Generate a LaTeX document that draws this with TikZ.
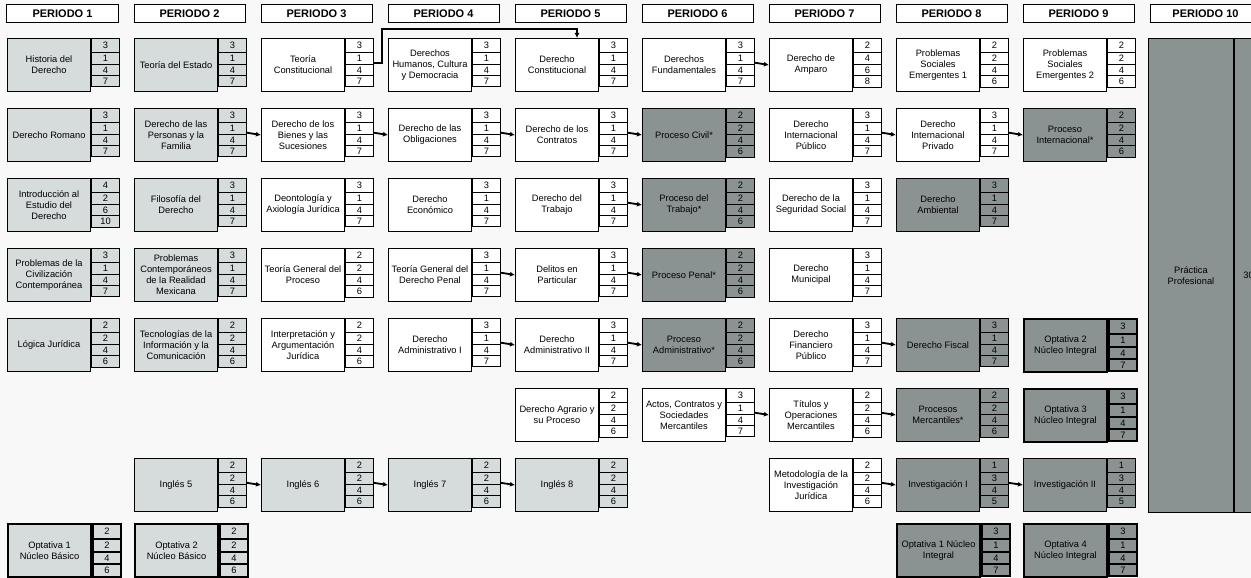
\documentclass[tikz,border=0pt]{standalone}
\usepackage{fontspec}
\setmainfont{Liberation Sans}
\usetikzlibrary{shapes.multipart,arrows.meta}

\definecolor{claro}{RGB}{214,219,219}
\definecolor{oscuro}{RGB}{139,147,146}
\definecolor{fondo}{RGB}{248,248,248}

% materia: nombre, esquina (x,y), estilo, texto, cuatro cifras
\newcommand{\materia}[8]{%
  \node (#1) at (#2) [caja,#3,anchor=north west] {#4};
  \node (#1n) at (#1.north east) [creditos,#3,anchor=north west] {#5\nodepart{two}#6\nodepart{three}#7\nodepart{four}#8};
}

\begin{document}
\begin{tikzpicture}[x=1bp,y=-1bp,
    caja/.style={draw,rectangle,line width=1bp,minimum width=83bp,minimum height=53bp,inner sep=0.5bp,align=center,font=\fontsize{9.3bp}{11bp}\selectfont},
    creditos/.style={draw,rectangle split,rectangle split parts=4,line width=1bp,minimum width=28bp,inner xsep=0bp,inner ysep=2bp,text height=7.25bp,text depth=2bp,font=\fontsize{9.3bp}{11bp}\selectfont},
    blanca/.style={fill=white},
    gris/.style={fill=claro},
    obscura/.style={fill=oscuro},
    gruesa/.style={line width=2bp},
    periodo/.style={draw,rectangle,line width=1bp,fill=white,minimum width=111bp,minimum height=18bp,inner sep=0bp,font=\fontsize{11bp}{11bp}\selectfont\bfseries},
    flecha/.style={-{Latex[length=5bp,width=5bp]},line width=1.8bp}]
  \fill[fondo] (0,0) rectangle (1251,578);
  \useasboundingbox (0,0) rectangle (1251,578);
		%%
  \node (P1) at (62.5,14) [periodo] {PERIODO 1};
  \node (P2) at (189.5,14) [periodo] {PERIODO 2};
  \node (P3) at (316.5,14) [periodo] {PERIODO 3};
  \node (P4) at (443.5,14) [periodo] {PERIODO 4};
  \node (P5) at (570.5,14) [periodo] {PERIODO 5};
  \node (P6) at (697.5,14) [periodo] {PERIODO 6};
  \node (P7) at (824.5,14) [periodo] {PERIODO 7};
  \node (P8) at (951.5,14) [periodo] {PERIODO 8};
  \node (P9) at (1078.5,14) [periodo] {PERIODO 9};
  \node (P10) at (1205.5,14) [periodo] {PERIODO 10};
		% periodo 1
  \materia{Historia}{7,38}{gris}{Historia del\\Derecho}{3}{1}{4}{7}
  \materia{Romano}{7,108}{gris}{Derecho Romano}{3}{1}{4}{7}
  \materia{Introduccion}{7,178}{gris}{Introducción al\\Estudio del\\Derecho}{4}{2}{6}{10}
  \materia{Civilizacion}{7,248}{gris}{Problemas de la\\Civilización\\Contemporánea}{3}{1}{4}{7}
  \materia{Logica}{7,318}{gris}{Lógica Jurídica}{2}{2}{4}{6}
  \materia{OptBasUno}{7,523}{gris,gruesa}{Optativa 1\\Núcleo Básico}{2}{2}{4}{6}
		% periodo 2
  \materia{Estado}{134,38}{gris}{Teoría del Estado}{3}{1}{4}{7}
  \materia{Personas}{134,108}{gris}{Derecho de las\\Personas y la\\Familia}{3}{1}{4}{7}
  \materia{Filosofia}{134,178}{gris}{Filosofía del\\Derecho}{3}{1}{4}{7}
  \materia{Mexicana}{134,248}{gris}{Problemas\\Contemporáneos\\de la Realidad\\Mexicana}{3}{1}{4}{7}
  \materia{Tecnologias}{134,318}{gris}{Tecnologías de la\\Información y la\\Comunicación}{2}{2}{4}{6}
  \materia{InglesCinco}{134,458}{gris}{Inglés 5}{2}{2}{4}{6}
  \materia{OptBasDos}{134,523}{gris,gruesa}{Optativa 2\\Núcleo Básico}{2}{2}{4}{6}
		% periodo 3
  \materia{TeoriaConst}{261,38}{blanca}{Teoría\\Constitucional}{3}{1}{4}{7}
  \materia{Bienes}{261,108}{blanca}{Derecho de los\\Bienes y las\\Sucesiones}{3}{1}{4}{7}
  \materia{Deontologia}{261,178}{blanca}{Deontología y\\Axiología Jurídica}{3}{1}{4}{7}
  \materia{TeoriaProceso}{261,248}{blanca}{Teoría General del\\Proceso}{2}{2}{4}{6}
  \materia{Argumentacion}{261,318}{blanca}{Interpretación y\\Argumentación\\Jurídica}{2}{2}{4}{6}
  \materia{InglesSeis}{261,458}{gris}{Inglés 6}{2}{2}{4}{6}
		% periodo 4
  \materia{Humanos}{388,38}{blanca}{Derechos\\Humanos, Cultura\\y Democracia}{3}{1}{4}{7}
  \materia{Obligaciones}{388,108}{blanca}{Derecho de las\\Obligaciones}{3}{1}{4}{7}
  \materia{Economico}{388,178}{blanca}{Derecho\\Económico}{3}{1}{4}{7}
  \materia{TeoriaPenal}{388,248}{blanca}{Teoría General del\\Derecho Penal}{3}{1}{4}{7}
  \materia{AdminUno}{388,318}{blanca}{Derecho\\Administrativo I}{3}{1}{4}{7}
  \materia{InglesSiete}{388,458}{gris}{Inglés 7}{2}{2}{4}{6}
		% periodo 5
  \materia{Constitucional}{515,38}{blanca}{Derecho\\Constitucional}{3}{1}{4}{7}
  \materia{Contratos}{515,108}{blanca}{Derecho de los\\Contratos}{3}{1}{4}{7}
  \materia{Trabajo}{515,178}{blanca}{Derecho del\\Trabajo}{3}{1}{4}{7}
  \materia{Delitos}{515,248}{blanca}{Delitos en\\Particular}{3}{1}{4}{7}
  \materia{AdminDos}{515,318}{blanca}{Derecho\\Administrativo II}{3}{1}{4}{7}
  \materia{Agrario}{515,388}{blanca}{Derecho Agrario y\\su Proceso}{2}{2}{4}{6}
  \materia{InglesOcho}{515,458}{gris}{Inglés 8}{2}{2}{4}{6}
		% periodo 6
  \materia{Fundamentales}{642,38}{blanca}{Derechos\\Fundamentales}{3}{1}{4}{7}
  \materia{ProcCivil}{642,108}{obscura}{Proceso Civil*}{2}{2}{4}{6}
  \materia{ProcTrabajo}{642,178}{obscura}{Proceso del\\Trabajo*}{2}{2}{4}{6}
  \materia{ProcPenal}{642,248}{obscura}{Proceso Penal*}{2}{2}{4}{6}
  \materia{ProcAdmin}{642,318}{obscura}{Proceso\\Administrativo*}{2}{2}{4}{6}
  \materia{Sociedades}{642,388}{blanca}{Actos, Contratos y\\Sociedades\\Mercantiles}{3}{1}{4}{7}
		% periodo 7
  \materia{Amparo}{769,38}{blanca}{Derecho de\\Amparo}{2}{4}{6}{8}
  \materia{IntPublico}{769,108}{blanca}{Derecho\\Internacional\\Público}{3}{1}{4}{7}
  \materia{Seguridad}{769,178}{blanca}{Derecho de la\\Seguridad Social}{3}{1}{4}{7}
  \materia{Municipal}{769,248}{blanca}{Derecho\\Municipal}{3}{1}{4}{7}
  \materia{Financiero}{769,318}{blanca}{Derecho\\Financiero\\Público}{3}{1}{4}{7}
  \materia{Titulos}{769,388}{blanca}{Títulos y\\Operaciones\\Mercantiles}{2}{2}{4}{6}
  \materia{Metodologia}{769,458}{blanca}{Metodología de la\\Investigación\\Jurídica}{2}{2}{4}{6}
		% periodo 8
  \materia{EmergentesUno}{896,38}{blanca}{Problemas\\Sociales\\Emergentes 1}{2}{2}{4}{6}
  \materia{IntPrivado}{896,108}{blanca}{Derecho\\Internacional\\Privado}{3}{1}{4}{7}
  \materia{Ambiental}{896,178}{obscura}{Derecho\\Ambiental}{3}{1}{4}{7}
  \materia{Fiscal}{896,318}{obscura}{Derecho Fiscal}{3}{1}{4}{7}
  \materia{ProcMercantil}{896,388}{obscura}{Procesos\\Mercantiles*}{2}{2}{4}{6}
  \materia{InvUno}{896,458}{obscura}{Investigación I}{1}{3}{4}{5}
  \materia{OptIntUno}{896,523}{obscura,gruesa}{Optativa 1 Núcleo\\Integral}{3}{1}{4}{7}
		% periodo 9
  \materia{EmergentesDos}{1023,38}{blanca}{Problemas\\Sociales\\Emergentes 2}{2}{2}{4}{6}
  \materia{ProcInt}{1023,108}{obscura}{Proceso\\Internacional*}{2}{2}{4}{6}
  \materia{OptIntDos}{1023,318}{obscura,gruesa}{Optativa 2\\Núcleo Integral}{3}{1}{4}{7}
  \materia{OptIntTres}{1023,388}{obscura,gruesa}{Optativa 3\\Núcleo Integral}{3}{1}{4}{7}
  \materia{InvDos}{1023,458}{obscura}{Investigación II}{1}{3}{4}{5}
  \materia{OptIntCuatro}{1023,523}{obscura,gruesa}{Optativa 4\\Núcleo Integral}{3}{1}{4}{7}
		% periodo 10
  \node (Practica) at (1148,38) [caja,obscura,anchor=north west,minimum width=85bp,minimum height=474bp] {Práctica\\Profesional};
  \node (Practican) at (Practica.north east) [caja,obscura,anchor=north west,minimum width=28bp,minimum height=474bp] {30};
		% seriaciones
  \coordinate (codo) at (382,29);
  \draw [flecha] (TeoriaConstn.east) -| (codo) -| ([xshift=20bp]Constitucional.north);
  \draw [flecha] (Fundamentalesn.east) -- (Amparo.west);
  \draw [flecha] (Personasn.east) -- (Bienes.west);
  \draw [flecha] (Bienesn.east) -- (Obligaciones.west);
  \draw [flecha] (Obligacionesn.east) -- (Contratos.west);
  \draw [flecha] (Contratosn.east) -- (ProcCivil.west);
  \draw [flecha] (IntPublicon.east) -- (IntPrivado.west);
  \draw [flecha] (IntPrivadon.east) -- (ProcInt.west);
  \draw [flecha] (Trabajon.east) -- (ProcTrabajo.west);
  \draw [flecha] (TeoriaPenaln.east) -- (Delitos.west);
  \draw [flecha] (Delitosn.east) -- (ProcPenal.west);
  \draw [flecha] (AdminUnon.east) -- (AdminDos.west);
  \draw [flecha] (AdminDosn.east) -- (ProcAdmin.west);
  \draw [flecha] (Financieron.east) -- (Fiscal.west);
  \draw [flecha] (Sociedadesn.east) -- (Titulos.west);
  \draw [flecha] (Titulosn.east) -- (ProcMercantil.west);
  \draw [flecha] (InglesCincon.east) -- (InglesSeis.west);
  \draw [flecha] (InglesSeisn.east) -- (InglesSiete.west);
  \draw [flecha] (InglesSieten.east) -- (InglesOcho.west);
  \draw [flecha] (Metodologian.east) -- (InvUno.west);
  \draw [flecha] (InvUnon.east) -- (InvDos.west);
		%
\end{tikzpicture}
\end{document}
